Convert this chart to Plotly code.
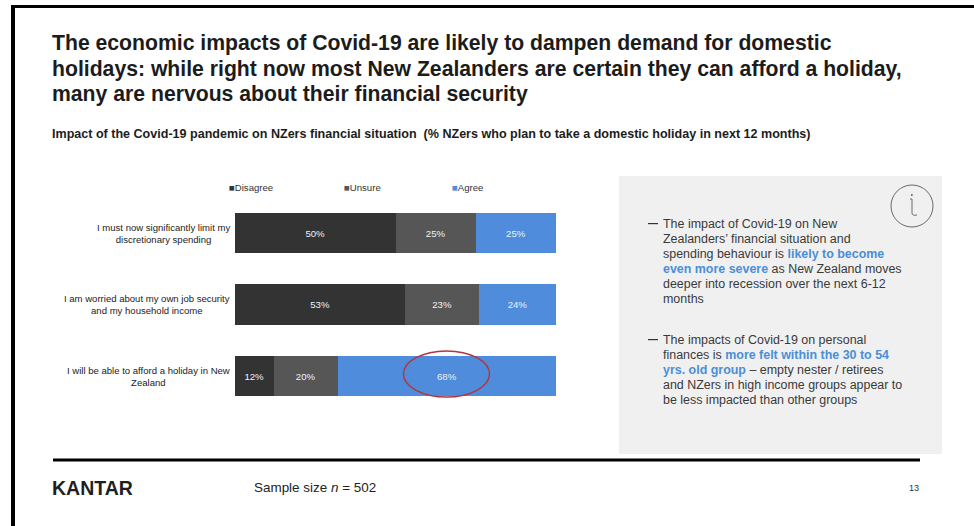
import plotly.graph_objects as go

WIDTH, HEIGHT = 974, 526
FONT = "Liberation Sans"

statements = [
    "I must now significantly limit my<br>discretionary spending",
    "I am worried about my own job security<br>and my household income",
    "I will be able to afford a holiday in New<br>Zealand",
]
disagree = [50, 53, 12]
unsure = [25, 23, 20]
agree = [25, 24, 68]

series_names = ["Disagree", "Unsure", "Agree"]
series_colors = ["#333333", "#565656", "#4f8cdb"]
series_values = [disagree, unsure, agree]

title_lines = [
    "The economic impacts of Covid-19 are likely to dampen demand for domestic",
    "holidays: while right now most New Zealanders are certain they can afford a holiday,",
    "many are nervous about their financial security",
]
subtitle = "Impact of the Covid-19 pandemic on NZers financial situation  (% NZers who plan to take a domestic holiday in next 12 months)"

HIGHLIGHT = "#4a8fd6"


def hl(text):
    return f'<span style="color:{HIGHLIGHT}"><b>{text}</b></span>'


note_one = [
    "The impact of Covid-19 on New",
    "Zealanders’ financial situation and",
    "spending behaviour is " + hl("likely to become"),
    hl("even more severe") + " as New Zealand moves",
    "deeper into recession over the next 6-12",
    "months",
]
note_two = [
    "The impacts of Covid-19 on personal",
    "finances is " + hl("more felt within the 30 to 54"),
    hl("yrs. old group") + " – empty nester / retirees",
    "and NZers in high income groups appear to",
    "be less impacted than other groups",
]


def px(x):
    return x / WIDTH


def py(y):
    return 1 - y / HEIGHT


def label(x, y, text, size, color="#222222", anchor="left", family=FONT):
    return dict(
        x=px(x), y=py(y), xref="paper", yref="paper", text=text, showarrow=False,
        xanchor=anchor, yanchor="middle", align=anchor,
        font=dict(family=family, size=size, color=color),
    )


def rect(x0, y0, x1, y1, color, layer="below"):
    return dict(
        type="rect", xref="paper", yref="paper", layer=layer,
        x0=px(x0), x1=px(x1), y0=py(y0), y1=py(y1),
        fillcolor=color, line=dict(width=0),
    )


fig = go.Figure()
for name, color, values in zip(series_names, series_colors, series_values):
    fig.add_trace(go.Bar(
        name=name, y=statements, x=values, orientation="h",
        marker=dict(color=color, line=dict(width=0)),
        text=[f"{v}%" for v in values], textposition="inside",
        insidetextanchor="middle", textangle=0,
        textfont=dict(family=FONT, size=9.6, color="#eef2f6"),
        showlegend=False,
    ))

annotations = []

# Title block
for y, line in zip([43, 69, 94], title_lines):
    annotations.append(label(50, y, f"<b>{line}</b>", 21.2, "#1c1c1c"))
annotations.append(label(50, 134, f"<b>{subtitle}</b>", 12.55, "#1c1c1c"))

# Legend row
for x, name, color in zip([226.5, 341.5, 450], series_names, series_colors):
    annotations.append(label(
        x, 187, f'<span style="color:{color}">■</span>{name}', 9.6, "#333333",
    ))

# Statement labels, centred on each other beside the bars
for statement in statements:
    annotations.append(dict(
        x=px(232), y=statement, xref="paper", yref="y", text=statement,
        showarrow=False, xanchor="right", yanchor="middle", align="center",
        font=dict(family=FONT, size=9.55, color="#222222"),
    ))

# Commentary panel
for y, line in zip([224, 239, 254, 269, 284, 299], note_one):
    annotations.append(label(661, y, line, 12.45, "#3a3a3a"))
for y, line in zip([340, 355, 370, 385, 400], note_two):
    annotations.append(label(661, y, line, 12.45, "#3a3a3a"))

# Footer
annotations.append(label(50, 488, "<b>KANTAR</b>", 19.5, "#1f1f1f"))
annotations.append(label(252, 487, "Sample size <i>n</i> = 502", 13.45, "#222222"))
annotations.append(label(907, 488, "13", 9, "#333333"))

shapes = [
    # Slide frame
    rect(11, 5, WIDTH, 8, "#000000"),
    rect(11, 5, 15, HEIGHT, "#000000"),
    # Commentary panel background and footer rule
    rect(619, 176, 942, 454, "#f0f0f0"),
    rect(53, 458.5, 920, 461.5, "#000000"),
    # Bullet dashes
    rect(648, 223, 658, 224.2, "#333333"),
    rect(648, 339, 658, 340.2, "#333333"),
    # Ring around the 68% result
    dict(
        type="circle", xref="paper", yref="paper", layer="above",
        x0=px(403.5), x1=px(489.5), y0=py(351), y1=py(397),
        line=dict(color="#b5343c", width=1.4),
    ),
    # Information icon
    dict(
        type="circle", xref="paper", yref="paper", layer="above",
        x0=px(891), x1=px(933), y0=py(185), y1=py(227),
        line=dict(color="#6a6a6a", width=1),
    ),
    dict(
        type="path", xref="paper", yref="paper", layer="above",
        path=(
            f"M {px(910)} {py(199)} L {px(912)} {py(199)} L {px(912)} {py(213)} "
            f"Q {px(912)} {py(216)} {px(917)} {py(215)}"
        ),
        line=dict(color="#6a6a6a", width=1),
    ),
    dict(
        type="circle", xref="paper", yref="paper", layer="above",
        x0=px(910.8), x1=px(912.8), y0=py(194), y1=py(196),
        fillcolor="#6a6a6a", line=dict(width=0),
    ),
]

fig.update_layout(
    width=WIDTH, height=HEIGHT, autosize=False,
    margin=dict(l=0, r=0, t=0, b=0),
    paper_bgcolor="#ffffff", plot_bgcolor="rgba(0,0,0,0)",
    barmode="stack", bargap=0.44,
    xaxis=dict(
        domain=[px(235), px(556)], range=[0, 100], visible=False, fixedrange=True,
    ),
    yaxis=dict(
        domain=[py(411.75), py(197.25)], autorange="reversed", type="category",
        showticklabels=False, ticks="", showgrid=False, zeroline=False,
        showline=False, fixedrange=True,
    ),
    annotations=annotations, shapes=shapes, showlegend=False,
)

fig.write_html("out.html", config=dict(displayModeBar=False))
